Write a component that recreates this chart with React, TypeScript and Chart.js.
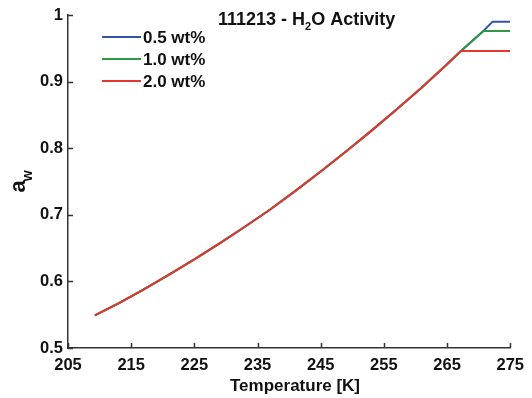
import React, { useEffect, useRef } from 'react';
import { Chart, registerables } from 'chart.js';

Chart.register(...registerables);

const FONT = '"Liberation Sans", Arial, Helvetica, sans-serif';

// Tick values
const xTickValues = [205, 215, 225, 235, 245, 255, 265, 275];
const yTickValues = [0.5, 0.6, 0.7, 0.8, 0.9, 1.0];

// Shared ice-melting part of the curve (temperature K, water activity)
const curveTemps = [209.25, 213, 217, 221, 225, 229, 233, 237, 241, 245, 249, 253, 257, 261, 265, 267.2];
const curveAw = [0.549, 0.567, 0.588, 0.61, 0.633, 0.657, 0.682, 0.708, 0.736, 0.765, 0.795, 0.826, 0.858, 0.891, 0.926, 0.946];

// Tails of each series after the shared curve
const tail05Temps = [270.75, 272.2, 275];
const tail05Aw = [0.976, 0.99, 0.99];
const tail10Temps = [270.75, 275];
const tail10Aw = [0.976, 0.976];
const tail20Temps = [275];
const tail20Aw = [0.946];

const seriesLabels = ['0.5 wt%', '1.0 wt%', '2.0 wt%'];
const seriesColors = ['#3352ab', '#2f9a43', '#e2382f'];

const toPoints = (t: number[], a: number[]) => t.map((x, i) => ({ x, y: a[i] }));

export default function App() {
  const ref = useRef<HTMLCanvasElement>(null);

  useEffect(() => {
    const s05 = toPoints([...curveTemps, ...tail05Temps], [...curveAw, ...tail05Aw]);
    const s10 = toPoints([...curveTemps, ...tail10Temps], [...curveAw, ...tail10Aw]);
    const s20 = toPoints([...curveTemps, ...tail20Temps], [...curveAw, ...tail20Aw]);

    const decor = {
      id: 'decor',
      afterDraw(chart: any) {
        const ctx = chart.ctx as CanvasRenderingContext2D;
        const xs = chart.scales.x;
        const ys = chart.scales.y;
        const area = chart.chartArea;
        ctx.save();
        // inward tick marks
        ctx.strokeStyle = '#333';
        ctx.lineWidth = 1.5;
        ctx.beginPath();
        xTickValues.forEach((v) => {
          const px = Math.round(xs.getPixelForValue(v)) + 0.5;
          ctx.moveTo(px, area.bottom);
          ctx.lineTo(px, area.bottom - 5);
        });
        yTickValues.forEach((v) => {
          const py = Math.round(ys.getPixelForValue(v)) + 0.5;
          ctx.moveTo(area.left, py);
          ctx.lineTo(area.left + 5, py);
        });
        ctx.stroke();

        ctx.fillStyle = '#111';
        ctx.textAlign = 'left';
        ctx.textBaseline = 'alphabetic';
        // title with subscript
        let tx = 218;
        const ty = 25;
        ctx.font = `bold 18px ${FONT}`;
        const p1 = '111213 - H';
        ctx.fillText(p1, tx, ty);
        tx += ctx.measureText(p1).width;
        ctx.font = `bold 11px ${FONT}`;
        ctx.fillText('2', tx, ty + 5);
        tx += ctx.measureText('2').width;
        ctx.font = `bold 18px ${FONT}`;
        ctx.fillText('O Activity', tx, ty);

        // x axis title
        ctx.font = `bold 17px ${FONT}`;
        ctx.textAlign = 'center';
        ctx.fillText('Temperature [K]', 295, 391);

        // y axis title a_w (rotated)
        ctx.save();
        ctx.translate(25, 192.5);
        ctx.rotate(-Math.PI / 2);
        ctx.textAlign = 'left';
        ctx.font = `bold 22px ${FONT}`;
        ctx.fillText('a', 0, 0);
        const aw = ctx.measureText('a').width;
        ctx.font = `bold 14px ${FONT}`;
        ctx.fillText('w', aw - 1, 7);
        ctx.restore();

        // legend
        ctx.font = `bold 17px ${FONT}`;
        ctx.textAlign = 'left';
        ctx.textBaseline = 'middle';
        const rows = [37, 59, 81];
        seriesLabels.forEach((lab, i) => {
          ctx.strokeStyle = seriesColors[i];
          ctx.lineWidth = 2;
          ctx.beginPath();
          ctx.moveTo(102, rows[i]);
          ctx.lineTo(141, rows[i]);
          ctx.stroke();
          ctx.fillStyle = '#111';
          ctx.fillText(lab, 143, rows[i] + 1);
        });
        ctx.restore();
      },
    };

    const tickFont = { family: FONT, size: 16.5, weight: 'bold' as const };

    const chart = new Chart(ref.current!, {
      type: 'line',
      data: {
        datasets: [
          { label: seriesLabels[2], data: s20, borderColor: seriesColors[2], borderWidth: 2, pointRadius: 0, tension: 0 },
          { label: seriesLabels[1], data: s10, borderColor: seriesColors[1], borderWidth: 2, pointRadius: 0, tension: 0 },
          { label: seriesLabels[0], data: s05, borderColor: seriesColors[0], borderWidth: 2, pointRadius: 0, tension: 0 },
        ],
      },
      options: {
        animation: false,
        responsive: false,
        maintainAspectRatio: false,
        layout: { padding: { top: 15, right: 19, left: 0, bottom: 0 } },
        plugins: { legend: { display: false }, tooltip: { enabled: false }, title: { display: false } },
        scales: {
          x: {
            type: 'linear',
            min: 205,
            max: 275,
            afterBuildTicks: (s: any) => { s.ticks = xTickValues.map((v) => ({ value: v })); },
            afterFit: (s: any) => { s.height = 50; },
            ticks: { font: tickFont, color: '#111', padding: 8, maxRotation: 0, autoSkip: false },
            grid: { display: false, drawTicks: false },
            border: { display: true, color: '#333', width: 1.5 },
          },
          y: {
            type: 'linear',
            min: 0.5,
            max: 1,
            afterBuildTicks: (s: any) => { s.ticks = yTickValues.map((v) => ({ value: v })); },
            afterFit: (s: any) => { s.width = 68; },
            ticks: {
              font: tickFont,
              color: '#111',
              padding: 5,
              autoSkip: false,
              callback: (v: any) => (Number(v) === 1 ? '1' : Number(v).toFixed(1)),
            },
            grid: { display: false, drawTicks: false },
            border: { display: true, color: '#333', width: 1.5 },
          },
        },
      },
      plugins: [decor],
    });
    return () => chart.destroy();
  }, []);

  return (
    <div style={{ position: 'absolute', left: 0, top: 0, width: 532, height: 398, background: '#fff' }}>
      <canvas ref={ref} width={532} height={398} style={{ display: 'block' }} />
    </div>
  );
}
